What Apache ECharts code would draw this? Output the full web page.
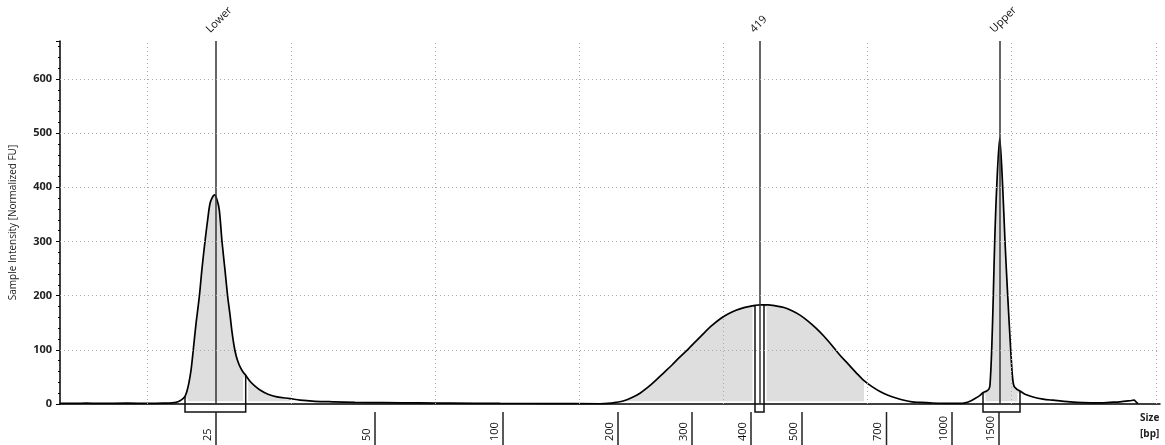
<!DOCTYPE html>
<html><head><meta charset="utf-8">
<script src="https://cdn.jsdelivr.net/npm/echarts@6/dist/echarts.min.js"></script>
<style>html,body{margin:0;padding:0;background:#fff}#c{width:1165px;height:445px}</style>
</head><body><div id="c"></div>
<script>
// Run position (arbitrary units) and normalized intensity of the trace
const tracePos = [60,75,86,100,127,150,165,172,176,180,183,185,187,189,191,193,196,199.3,202,205,208,210,212,214.5,217,219.3,222,225,227.7,230,232,234,236,238,240,243,245.7,250,255,260,268,277,290,300,315,333,355,383,420,450,500,550,600,608,616,624,632,640,648,656,664,672,680,688,696,704,712,720,728,736,744,752,755,760,764,768,776,784,792,800,808,816,824,832,840,848,856,864,872,880,888,896,904,912,920,930,950,960,965,970,975,980,983,986.7,989,990,991.7,993.3,994.7,996.7,999.7,1002.7,1005,1007.7,1010.7,1012.5,1014,1017,1020,1025,1033,1043,1053,1070,1083,1100,1110,1120,1130,1134,1136,1138];
const traceFU  = [1,1,1.5,1,1.5,1,1.5,2,3,6,10,14,24,40,62,95,148,198,250,300,345,370,380,386,377,358,300,247,198,165,133,108,90,78,69,59,53,42,33,26,18,13,10,7,5,4,3,2.5,2,1.5,1,0.8,0.5,1,3,6,12,20,31,44,58,72,87,101,116,131,145,157,166,173,178,181,182,183,183,183,181,178,172,164,153,140,125,108,90,74,58,43,32,23,16,11,7,4,3,2,1,1,2,5,10,16,21,24,28,35,100,200,300,400,491,400,300,200,100,50,33,27,24,18,13,9,7,4,2.5,2,3,4,6,7,4,0.5];

// Size ladder (bp) and where each size sits on the run axis
const ladderBp  = ['25','50','100','200','300','400','500','700','1000','1500'];
const ladderPos = [216,375,503,618,692,751,802,886.5,952,999];

// Called peaks
const peakLabels = ['Lower','419','Upper'];
const peakPos    = [216,760,1000];

// Peak region boxes (start, end on run axis)
const regionStart = [185,755,983];
const regionEnd   = [245.7,764,1020];

// Shaded areas under the trace
const shadeStart = [185,616,764,983];
const shadeEnd   = [290,755,867,1020];

// Grid lines
const gridX = [147,291,435,579,723,867,1011,1156];
const yTicks = [0,100,200,300,400,500,600];

const X_MIN = 60, X_MAX = 1160, Y_MAX = 670;
const FONT = "'Open Sans','Noto Sans',sans-serif";
const trace = tracePos.map((x,i)=>[x, traceFU[i]]);

function heightAt(x){
  for(let i=0;i<tracePos.length-1;i++){
    if(x>=tracePos[i] && x<=tracePos[i+1]){
      const t=(x-tracePos[i])/(tracePos[i+1]-tracePos[i]);
      return traceFU[i]+t*(traceFU[i+1]-traceFU[i]);
    }
  }
  return 0;
}

const INSET = 5;
const shadeSeries = shadeStart.map((s,k)=>({
  type:'line', z:1, silent:true, smooth:0.3, showSymbol:false,
  lineStyle:{width:0},
  areaStyle:{color:'#dedede', opacity:1, origin:INSET},
  data: trace.filter(p=>p[0]>=s && p[0]<=shadeEnd[k]).map(p=>[p[0], Math.max(p[1], INSET)])
}));

const chart = echarts.init(document.getElementById('c'), null, {renderer:'canvas'});
chart.setOption({
  animation:false,
  backgroundColor:'#fff',
  grid:{left:60, right:1165-X_MAX, top:41, bottom:41},
  xAxis:{type:'value', min:X_MIN, max:X_MAX,
    axisLine:{onZero:true, lineStyle:{color:'#000', width:1.5}},
    axisTick:{show:false}, axisLabel:{show:false}, splitLine:{show:false}},
  yAxis:{type:'value', min:0, max:Y_MAX, interval:100,
    name:'Sample Intensity [Normalized FU]', nameLocation:'middle', nameGap:42,
    nameTextStyle:{fontSize:10, color:'#222', fontFamily:FONT},
    axisLine:{show:true, lineStyle:{color:'#000', width:1.5}},
    axisTick:{show:true, length:4, lineStyle:{color:'#000'}},
    minorTick:{show:true, splitNumber:5, length:2, lineStyle:{color:'#000'}},
    axisLabel:{fontSize:11, fontWeight:'bold', color:'#222', margin:8, fontFamily:FONT, showMaxLabel:false},
    splitLine:{show:false}},
  graphic:[{type:'text', left:1140, top:410,
    style:{text:'Size\n[bp]', font:'bold 10px '+FONT, fill:'#222', lineHeight:16}}],
  series:[
    ...shadeSeries,
    { // region boxes
      type:'custom', z:2, silent:true, clip:false,
      encode:{x:[0,1]},
      data: regionStart.map((s,i)=>[s, regionEnd[i]]),
      renderItem:(params, api)=>{
        const x0=api.value(0), x1=api.value(1);
        const b0=api.coord([x0,0]), b1=api.coord([x1,0]);
        const t0=api.coord([x0,heightAt(x0)]), t1=api.coord([x1,heightAt(x1)]);
        const by=b0[1]+8;
        return {type:'group', children:[
          {type:'line', shape:{x1:b0[0],y1:b0[1]-1,x2:t0[0],y2:t0[1]+2}, style:{stroke:'#fff', lineWidth:5}},
          {type:'line', shape:{x1:b1[0],y1:b1[1]-1,x2:t1[0],y2:t1[1]+2}, style:{stroke:'#fff', lineWidth:5}},
          {type:'polyline', shape:{points:[[b0[0],t0[1]],[b0[0],by],[b1[0],by],[b1[0],t1[1]]]},
            style:{stroke:'#111', lineWidth:1.5, fill:null}}
        ]};
      }
    },
    { // trace
      type:'line', z:3, silent:true, smooth:0.3, showSymbol:false,
      lineStyle:{color:'#000', width:1.7},
      data: trace,
      markLine:{silent:true, symbol:'none', animation:false,
        label:{show:false},
        lineStyle:{color:'#aaa', type:[1,3], width:1},
        data:[
          ...gridX.map(x=>({xAxis:x})),
          ...yTicks.filter(v=>v>0).map(v=>({yAxis:v}))
        ]}
    },
    { // peak markers
      type:'custom', z:4, silent:true, clip:false,
      data: peakPos.map((p,i)=>[p, i]),
      renderItem:(params, api)=>{
        const x=api.value(0), i=api.value(1);
        const top=api.coord([x,Y_MAX]), bot=api.coord([x,0]);
        return {type:'group', children:[
          {type:'line', shape:{x1:top[0],y1:top[1],x2:bot[0],y2:bot[1]}, style:{stroke:'#333', lineWidth:1.5}},
          {type:'text', x:top[0]-8, y:top[1]-10, rotation:Math.PI/4,
            style:{text:peakLabels[i], font:'11px '+FONT, fill:'#111', align:'left', verticalAlign:'middle', textAlign:'left', textVerticalAlign:'middle'}}
        ]};
      }
    },
    { // size ladder
      type:'custom', z:4, silent:true, clip:false,
      data: ladderPos.map((p,i)=>[p, i]),
      renderItem:(params, api)=>{
        const x=api.value(0), i=api.value(1);
        const b=api.coord([x,0]);
        return {type:'group', children:[
          {type:'line', shape:{x1:b[0],y1:b[1]+8,x2:b[0],y2:b[1]+45}, style:{stroke:'#222', lineWidth:1.5}},
          {type:'text', x:b[0]-3, y:b[1]+37, rotation:Math.PI/2,
            style:{text:ladderBp[i], font:'11px '+FONT, fill:'#111', align:'left', verticalAlign:'bottom', textAlign:'left', textVerticalAlign:'bottom'}}
        ]};
      }
    }
  ]
});
</script></body></html>
